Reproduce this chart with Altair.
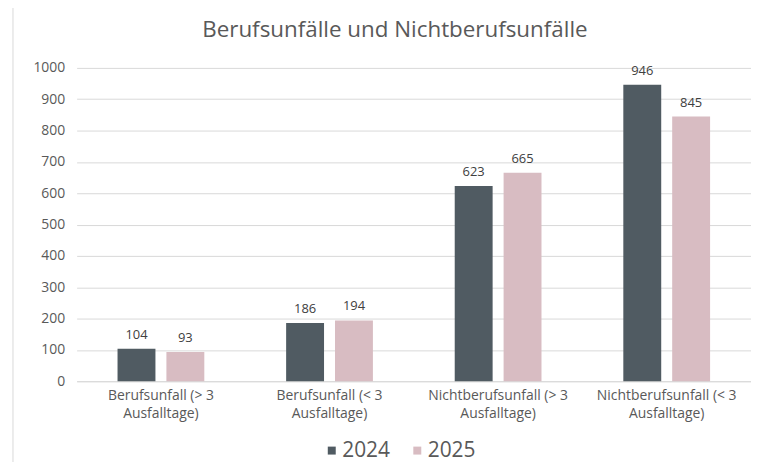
import altair as alt
import pandas as pd

categories = [
    "Berufsunfall (> 3\nAusfalltage)",
    "Berufsunfall (< 3\nAusfalltage)",
    "Nichtberufsunfall (> 3\nAusfalltage)",
    "Nichtberufsunfall (< 3\nAusfalltage)",
]
years = ["2024", "2025"]
values_2024 = [104, 186, 623, 946]
values_2025 = [93, 194, 665, 845]
y_ticks = [0, 100, 200, 300, 400, 500, 600, 700, 800, 900, 1000]
colors = ["#505b62", "#d8bcc2"]

rows = []
for c, a, b in zip(categories, values_2024, values_2025):
    rows.append({"Kategorie": c, "Jahr": "2024", "Wert": a})
    rows.append({"Kategorie": c, "Jahr": "2025", "Wert": b})
df = pd.DataFrame(rows)

FONT = "Open Sans"
GRAY = "#595959"

x = alt.X(
    "Kategorie:N",
    sort=categories,
    title=None,
    scale=alt.Scale(paddingInner=0, paddingOuter=0),
    axis=alt.Axis(
        labelExpr="split(datum.label, '\\n')",
        labelAngle=0,
        labelFont=FONT,
        labelFontSize=14,
        labelColor=GRAY,
        labelPadding=7,
        labelLineHeight=18,
        ticks=False,
        domainColor="#d9d9d9",
        grid=False,
    ),
)
xoff = alt.XOffset(
    "Jahr:N",
    sort=years,
    scale=alt.Scale(paddingInner=0.2245, paddingOuter=0.837),
)
y = alt.Y(
    "Wert:Q",
    title=None,
    scale=alt.Scale(domain=[0, 1000], nice=False),
    axis=alt.Axis(
        values=y_ticks,
        format="d",
        labelFont=FONT,
        labelFontSize=14,
        labelColor=GRAY,
        labelPadding=12,
        ticks=False,
        domain=False,
        gridColor="#d9d9d9",
    ),
)
color = alt.Color(
    "Jahr:N",
    sort=years,
    scale=alt.Scale(domain=years, range=colors),
    legend=alt.Legend(
        title=None,
        orient="none",
        direction="horizontal",
        legendX=246,
        legendY=374,
        symbolType="square",
        symbolSize=64,
        symbolStrokeWidth=0,
        labelFont=FONT,
        labelFontSize=21,
        labelColor=GRAY,
        labelOffset=0,
        columnPadding=16,
    ),
)

base = alt.Chart(df)
bars = base.mark_bar().encode(x=x, xOffset=xoff, y=y, color=color)
labels = base.mark_text(
    baseline="bottom", dy=-7, font=FONT, fontSize=13, color="#404040"
).encode(x=x, xOffset=xoff, y=y, text="Wert:Q")

frame_left = alt.Chart(pd.DataFrame({"k": [0]})).mark_rule(
    color="#d9d9d9", strokeWidth=1
).encode(x=alt.value(-64), y=alt.value(-63), y2=alt.value(400))
frame_top = alt.Chart(pd.DataFrame({"k": [0]})).mark_rule(
    color="#d9d9d9", strokeWidth=1
).encode(x=alt.value(-64), x2=alt.value(680), y=alt.value(-63))

chart = (
    alt.layer(frame_left, frame_top, bars, labels)
    .properties(
        width=678,
        height=315,
        title=alt.TitleParams(
            "Berufsunfälle und Nichtberufsunfälle",
            font=FONT,
            fontSize=22.5,
            fontWeight="normal",
            color=GRAY,
            anchor="middle",
            dx=-19,
            offset=-37,
        ),
        autosize=alt.AutoSizeParams(type="none"),
        padding={"left": 69, "top": 59, "right": 0, "bottom": 80},
    )
    .configure_view(stroke=None)
)

chart.save("out.html", embed_options={"renderer": "svg", "actions": False})
